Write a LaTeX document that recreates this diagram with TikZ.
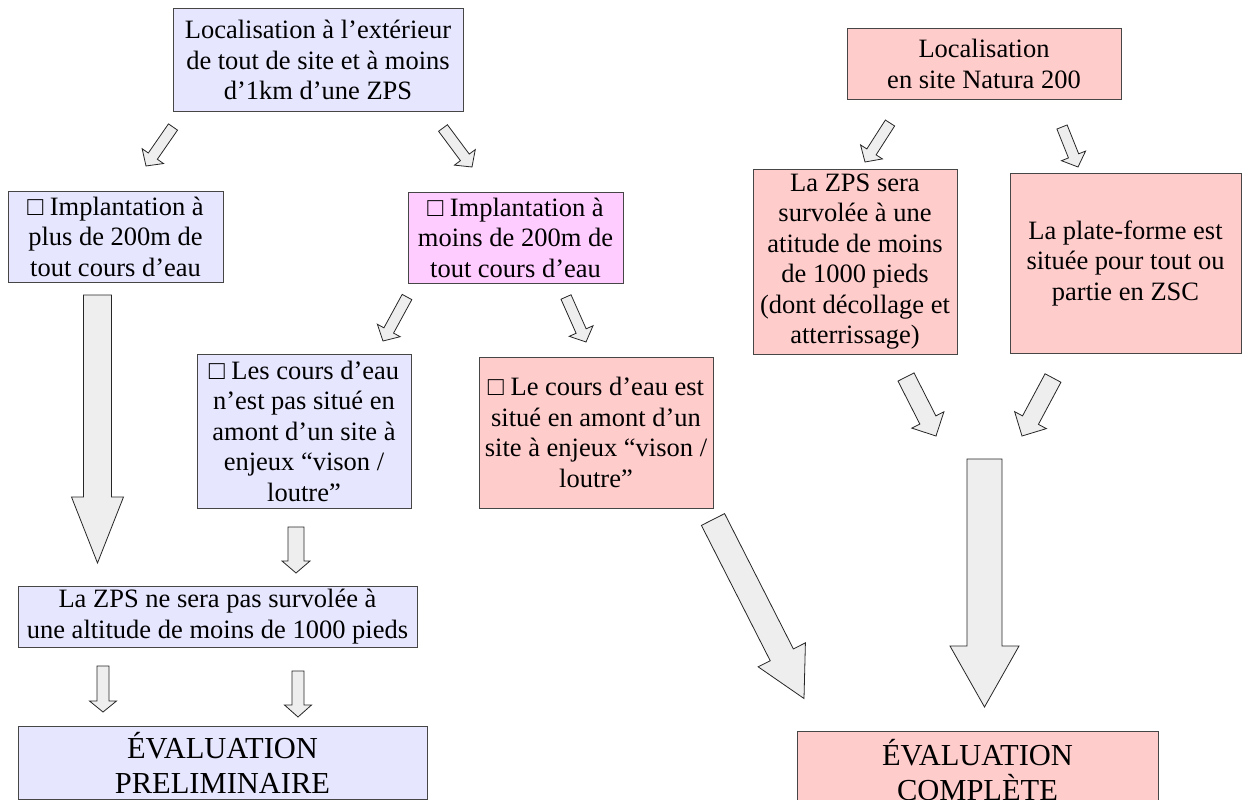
\documentclass[tikz,border=0pt]{standalone}
\usepackage{fontspec}
\setmainfont{Liberation Serif}
\usetikzlibrary{calc}
\definecolor{lav}{RGB}{230,230,255}
\definecolor{rose}{RGB}{255,204,204}
\definecolor{mag}{RGB}{255,204,255}
\definecolor{arrfill}{RGB}{238,238,238}
\definecolor{edgecol}{RGB}{70,70,70}
\tikzset{
  box/.style={draw=edgecol, line width=1pt, inner sep=0pt, align=center,
    font=\fontsize{26.5}{30.5}\selectfont},
  bigbox/.style={box, font=\fontsize{30.5}{35}\selectfont},
  arr/.style={draw=black!85, fill=arrfill, line width=0.8pt, line join=miter},
}
% #1 tail, #2 tip, #3 half shaft width, #4 half head width, #5 head length
\newcommand\blockarrow[5]{%
  \coordinate (hbtmp) at ($(#2)!#5!(#1)$);
  \draw[arr] ($(#1)!#3!90:(#2)$) -- ($(hbtmp)!#3!-90:(#1)$) -- ($(hbtmp)!#4!-90:(#1)$)
    -- (#2) -- ($(hbtmp)!#4!90:(#1)$) -- ($(hbtmp)!#3!90:(#1)$) -- ($(#1)!#3!-90:(#2)$) -- cycle;
}
\begin{document}
\begin{tikzpicture}[x=1pt,y=-1pt]
\path[use as bounding box] (0,0) rectangle (1242,800);
\clip (0,0) rectangle (1242,800);

% left part
\node[box, fill=lav, minimum width=290pt, minimum height=102pt] (top) at (318,60)
  {Localisation à l’extérieur\\de tout de site et à moins\\d’1km d’une ZPS};
\node[box, fill=lav, minimum width=215pt, minimum height=91pt] (boxA) at (115.5,236.5)
  {□ Implantation à\\plus de 200m de\\tout cours d’eau};
\node[box, fill=mag, minimum width=215pt, minimum height=91pt] (boxB) at (515.5,237.5)
  {□ Implantation à\\moins de 200m de\\tout cours d’eau};
\node[box, fill=lav, minimum width=214pt, minimum height=154pt] (lesC) at (304,431)
  {□ Les cours d’eau\\n’est pas situé en\\amont d’un site à\\enjeux “vison /\\loutre”};
\node[box, fill=rose, minimum width=234pt, minimum height=151pt] (leC) at (596,432.5)
  {□ Le cours d’eau est\\situé en amont d’un\\site à enjeux “vison /\\loutre”};
\node[box, fill=lav, minimum width=399pt, minimum height=61pt] (zpsNe) at (217.5,616.5)
  {La ZPS ne sera pas survolée à\\une altitude de moins de 1000 pieds};
\node[bigbox, fill=lav, minimum width=409pt, minimum height=73pt] (evalP) at (222.5,762.5)
  {ÉVALUATION\\PRELIMINAIRE};

% right part
\node[box, fill=rose, minimum width=274pt, minimum height=70pt] (locN) at (984,64)
  {Localisation\\en site Natura 200};
\node[box, fill=rose, minimum width=204pt, minimum height=185pt] (zpsS) at (855,261.5)
  {La ZPS sera\\survolée à une\\atitude de moins\\de 1000 pieds\\(dont décollage et\\atterrissage)};
\node[box, fill=rose, minimum width=231pt, minimum height=180pt] (plate) at (1125.5,263)
  {La plate-forme est\\située pour tout ou\\partie en ZSC};
\node[bigbox, fill=rose, minimum width=361pt, minimum height=79pt] (evalC) at (977.5,770.5)
  {ÉVALUATION\\COMPLÈTE};

% arrow end points
\coordinate (a1t) at (173,127);   \coordinate (a1h) at (146,166);
\coordinate (a2t) at (443,128);   \coordinate (a2h) at (472,167);
\coordinate (a3t) at (97.5,295);  \coordinate (a3h) at (97.5,563);
\coordinate (a4t) at (407,297);   \coordinate (a4h) at (383,341);
\coordinate (a5t) at (566,297);   \coordinate (a5h) at (586,342);
\coordinate (a6t) at (296,527);   \coordinate (a6h) at (296,573);
\coordinate (a7t) at (103,666);   \coordinate (a7h) at (103,712);
\coordinate (a8t) at (298,671);   \coordinate (a8h) at (298,717);
\coordinate (a9t) at (890,123);   \coordinate (a9h) at (865,162);
\coordinate (a10t) at (1062,127); \coordinate (a10h) at (1078,167);
\coordinate (a11t) at (906,377);  \coordinate (a11h) at (936,436);
\coordinate (a12t) at (1053,378); \coordinate (a12h) at (1022,436);
\coordinate (a13t) at (713,519.5); \coordinate (a13h) at (804,698.5);
\coordinate (a14t) at (984.5,459); \coordinate (a14h) at (984.5,707);

\blockarrow{a1t}{a1h}{5.5pt}{13pt}{12pt}
\blockarrow{a2t}{a2h}{5.5pt}{13pt}{12pt}
\blockarrow{a3t}{a3h}{14pt}{26pt}{66pt}
\blockarrow{a4t}{a4h}{5.5pt}{13pt}{12pt}
\blockarrow{a5t}{a5h}{5.5pt}{13pt}{12pt}
\blockarrow{a6t}{a6h}{8pt}{14pt}{12pt}
\blockarrow{a7t}{a7h}{6pt}{13.5pt}{11pt}
\blockarrow{a8t}{a8h}{6pt}{13.5pt}{12pt}
\blockarrow{a9t}{a9h}{5.5pt}{13pt}{12pt}
\blockarrow{a10t}{a10h}{5.5pt}{13pt}{12pt}
\blockarrow{a11t}{a11h}{9pt}{18pt}{18pt}
\blockarrow{a12t}{a12h}{9pt}{18pt}{18pt}
\blockarrow{a13t}{a13h}{13pt}{26.5pt}{49pt}
\blockarrow{a14t}{a14h}{17.5pt}{34.5pt}{61pt}
\end{tikzpicture}
\end{document}
